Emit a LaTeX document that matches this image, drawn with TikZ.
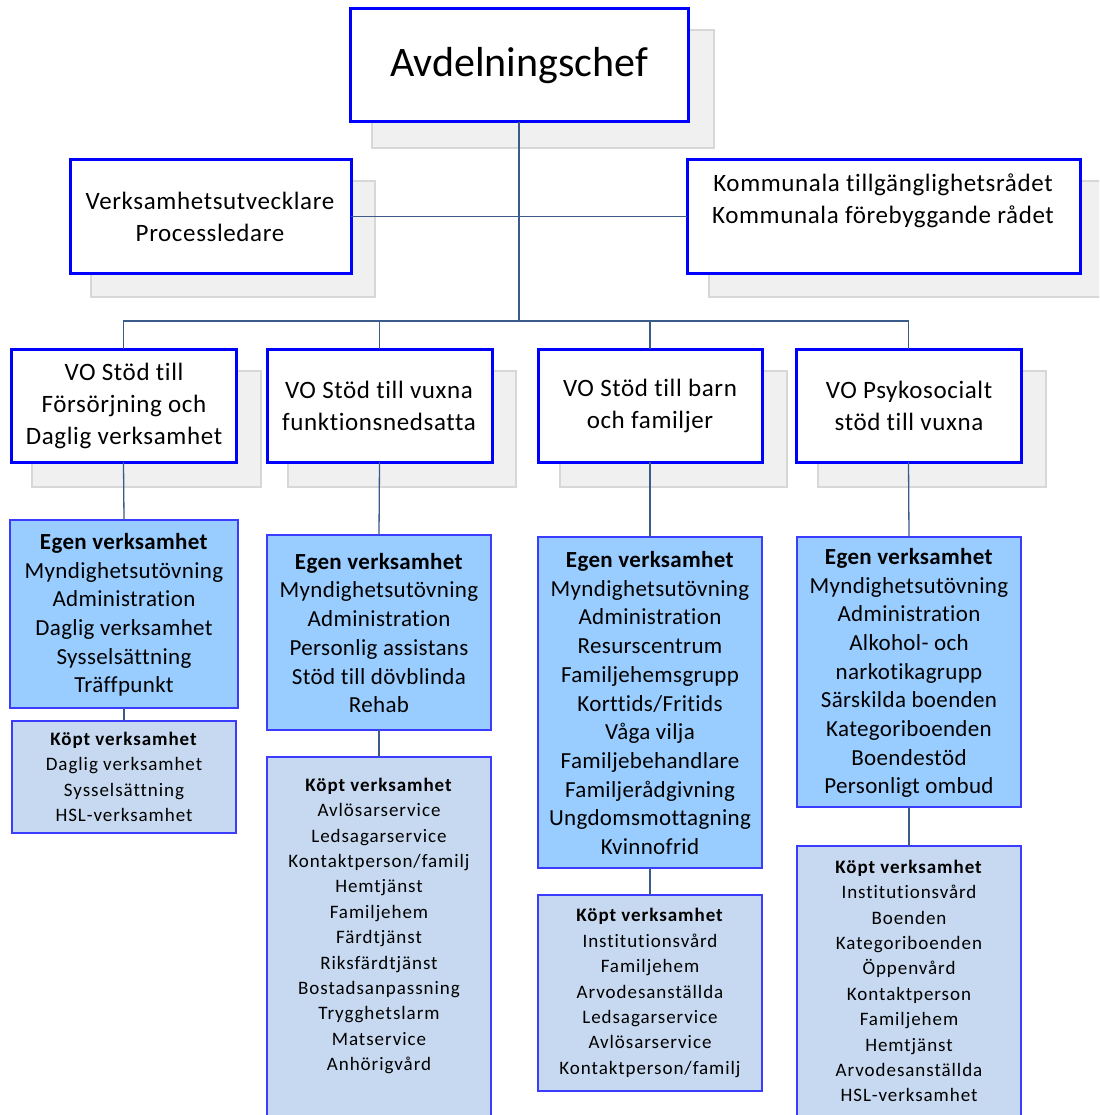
\documentclass[tikz,border=0pt]{standalone}
\usepackage{fontspec}
\setmainfont[Ligatures=NoCommon]{Carlito}
\newfontfamily\midfont[LetterSpace=2.5,Ligatures=NoCommon]{Carlito}
\newfontfamily\egenfont[LetterSpace=1.5,Ligatures=NoCommon]{Carlito}
\newfontfamily\koptfont[LetterSpace=5,Ligatures=NoCommon]{Carlito}
\definecolor{bdr}{RGB}{0,0,255}
\definecolor{thinb}{RGB}{60,60,255}
\definecolor{egenfill}{RGB}{153,204,255}
\definecolor{koptfill}{RGB}{198,217,240}
\definecolor{connc}{RGB}{59,92,138}
\definecolor{shfill}{RGB}{240,240,240}
\definecolor{shdraw}{RGB}{215,215,215}
\newcommand\mkbox[6]{%
  \node[#1, minimum width={#5pt-#3pt}, minimum height={#6pt-#4pt}] (#2) at ({(#3+#5)/2},{(#4+#6)/2}) {};}
\tikzset{
  basebox/.style={rectangle, inner sep=0pt, outer sep=0pt},
  shadowbox/.style={basebox, fill=shfill, draw=shdraw, line width=1.5pt},
  topbox/.style={basebox, fill=white, draw=bdr, line width=3pt},
  egenbox/.style={basebox, fill=egenfill, draw=thinb, line width=1.5pt},
  koptbox/.style={basebox, fill=koptfill, draw=thinb, line width=1.5pt},
  conn/.style={draw=connc, line width=1.3pt},
  bigtxt/.style={align=center, inner sep=0pt, font=\fontsize{42}{50}\selectfont},
  midtxt/.style={align=center, inner sep=0pt, font=\midfont\fontsize{25}{32}\selectfont},
  egentxt/.style={align=center, inner sep=0pt, font=\egenfont\fontsize{23}{28.7}\selectfont},
  kopttxt/.style={align=center, inner sep=0pt, font=\koptfont\fontsize{19}{25.4}\selectfont},
}
\begin{document}
\begin{tikzpicture}[x=1pt, y=-1pt]
\useasboundingbox (0,0) rectangle (1099,1115);
\clip (0,0) rectangle (1099,1115);
\fill[white] (0,0) rectangle (1099,1115);
% shadows
\mkbox{shadowbox}{chefsh}{372}{30}{714}{148}
\mkbox{shadowbox}{vush}{91}{181}{375}{297}
\mkbox{shadowbox}{krsh}{709}{181}{1115}{297}
\mkbox{shadowbox}{vosha}{32}{371}{261}{487}
\mkbox{shadowbox}{voshb}{288}{371}{516}{487}
\mkbox{shadowbox}{voshc}{560}{371}{787}{487}
\mkbox{shadowbox}{voshd}{818}{371}{1046}{487}
\coordinate (bus) at (123,321);
% boxes
\mkbox{topbox}{chef}{350}{9}{688}{122}
\mkbox{topbox}{vu}{70}{160}{351}{273}
\mkbox{topbox}{kr}{687}{160}{1080}{273}
\mkbox{topbox}{voa}{11}{349}{236}{462}
\mkbox{topbox}{vob}{267}{349}{492}{462}
\mkbox{topbox}{voc}{538}{349}{762}{462}
\mkbox{topbox}{vod}{796}{349}{1021}{462}
\mkbox{egenbox}{ea}{10}{520}{238}{708}
\mkbox{egenbox}{eb}{267}{535}{491}{730}
\mkbox{egenbox}{ec}{538}{537}{762}{868}
\mkbox{egenbox}{ed}{797}{537}{1021}{807}
\mkbox{koptbox}{ka}{12}{721}{236}{833}
\mkbox{koptbox}{kb}{267}{757}{491}{1130}
\mkbox{koptbox}{kc}{538}{895}{762}{1091}
\mkbox{koptbox}{kd}{797}{846}{1021}{1130}
% connectors
\path[conn] (chef.south) -- (chef.south |- bus);
\path[conn] (vu.east) -- (kr.west);
\path[conn] (voa.north) -- (voa.north |- bus) -- (vod.north |- bus) -- (vod.north);
\path[conn] (vob.north) -- (vob.north |- bus);
\path[conn] (voc.north) -- (voc.north |- bus);
\path[conn] (voa.south) -- (ea.north);
\path[conn] (vob.south) -- (eb.north);
\path[conn] (voc.south) -- (ec.north);
\path[conn] (vod.south) -- (ed.north);
\path[conn] (ea.south) -- (ka.north);
\path[conn] (eb.south) -- (kb.north);
\path[conn] (ec.south) -- (kc.north);
\path[conn] (ed.south) -- (kd.north);
% texts
\node[bigtxt] (chefT) at (519,66) {Avdelningschef};
\node[midtxt] (vuT) at (210,217) {Verksamhetsutvecklare\\Processledare};
\node[midtxt] (krT) at (883,201) {Kommunala tillgänglighetsrådet\\Kommunala förebyggande rådet};
\node[midtxt] (voaT) at (124,406) {VO Stöd till\\Försörjning och\\Daglig verksamhet};
\node[midtxt] (vobT) at (379,406) {VO Stöd till vuxna\\funktionsnedsatta};
\node[midtxt] (vocT) at (650,406) {VO Stöd till barn\\och familjer};
\node[midtxt] (vodT) at (909,406) {VO Psykosocialt\\stöd till vuxna};
\node[egentxt] (eaT) at (124,615) {\textbf{Egen verksamhet}\\Myndighetsutövning\\Administration\\Daglig verksamhet\\Sysselsättning\\Träffpunkt};
\node[egentxt] (ebT) at (379,633) {\textbf{Egen verksamhet}\\Myndighetsutövning\\Administration\\Personlig assistans\\Stöd till dövblinda\\Rehab};
\node[egentxt] (ecT) at (650,703) {\textbf{Egen verksamhet}\\Myndighetsutövning\\Administration\\Resurscentrum\\Familjehemsgrupp\\Korttids/Fritids\\Våga vilja\\Familjebehandlare\\Familjerådgivning\\Ungdomsmottagning\\Kvinnofrid};
\node[egentxt] (edT) at (909,673) {\textbf{Egen verksamhet}\\Myndighetsutövning\\Administration\\Alkohol- och\\narkotikagrupp\\Särskilda boenden\\Kategoriboenden\\Boendestöd\\Personligt ombud};
\node[kopttxt] (kaT) at (124,777) {\textbf{Köpt verksamhet}\\Daglig verksamhet\\Sysselsättning\\HSL-verksamhet};
\node[kopttxt] (kbT) at (379,926) {\textbf{Köpt verksamhet}\\Avlösarservice\\Ledsagarservice\\Kontaktperson/familj\\Hemtjänst\\Familjehem\\Färdtjänst\\Riksfärdtjänst\\Bostadsanpassning\\Trygghetslarm\\Matservice\\Anhörigvård};
\node[kopttxt] (kcT) at (650,993) {\textbf{Köpt verksamhet}\\Institutionsvård\\Familjehem\\Arvodesanställda\\Ledsagarservice\\Avlösarservice\\Kontaktperson/familj};
\node[kopttxt] (kdT) at (909,981) {\textbf{Köpt verksamhet}\\Institutionsvård\\Boenden\\Kategoriboenden\\Öppenvård\\Kontaktperson\\Familjehem\\Hemtjänst\\Arvodesanställda\\HSL-verksamhet};
\end{tikzpicture}
\end{document}
